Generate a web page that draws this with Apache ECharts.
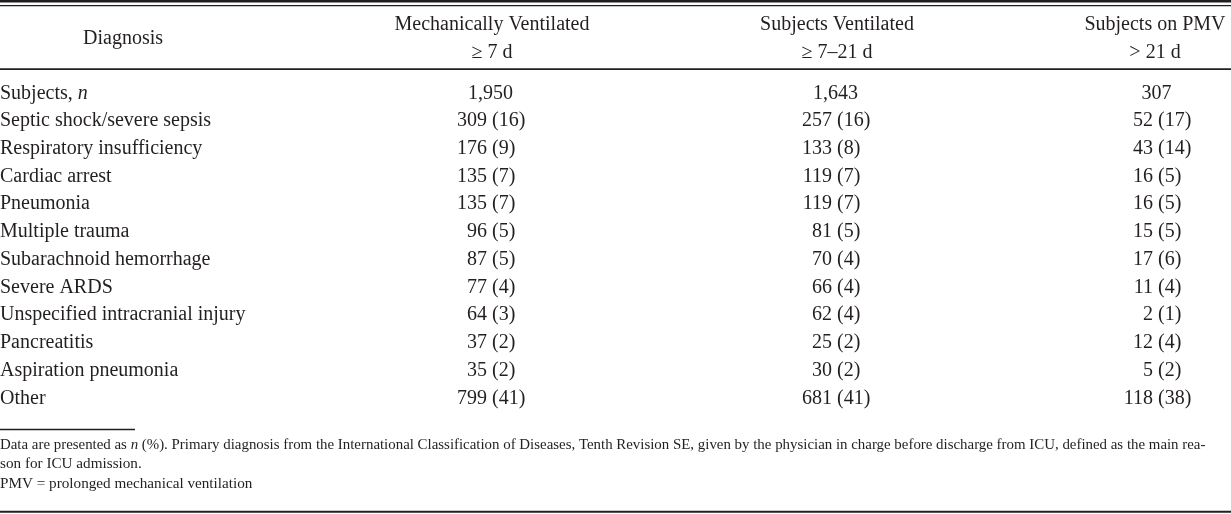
<!DOCTYPE html>
<html>
<head>
<meta charset="utf-8">
<script src="https://cdn.jsdelivr.net/npm/echarts/dist/echarts.min.js"></script>
<style>
html,body{margin:0;padding:0;background:#fff;}
#c{width:1231px;height:514px;}
</style>
</head>
<body>
<div id="c"></div>
<script>
// ---------------- DATA ----------------
const rowNames = [
  'Subjects, n',
  'Septic shock/severe sepsis',
  'Respiratory insufficiency',
  'Cardiac arrest',
  'Pneumonia',
  'Multiple trauma',
  'Subarachnoid hemorrhage',
  'Severe ARDS',
  'Unspecified intracranial injury',
  'Pancreatitis',
  'Aspiration pneumonia',
  'Other'
];
const mvCounts  = [1950, 309, 176, 135, 135, 96, 87, 77, 64, 37, 35, 799];
const mvPct     = [null, 16, 9, 7, 7, 5, 5, 4, 3, 2, 2, 41];
const svCounts  = [1643, 257, 133, 119, 119, 81, 70, 66, 62, 25, 30, 681];
const svPct     = [null, 16, 8, 7, 7, 5, 4, 4, 4, 2, 2, 41];
const pmvCounts = [307, 52, 43, 16, 16, 15, 17, 11, 2, 12, 5, 118];
const pmvPct    = [null, 17, 14, 5, 5, 5, 6, 4, 1, 4, 2, 38];
const headerDiagnosis = 'Diagnosis';
const columnHeaders = [
  ['Mechanically Ventilated', '\u2265 7 d'],
  ['Subjects Ventilated', '\u2265 7\u201321 d'],
  ['Subjects on PMV', '> 21 d']
];
const footnoteLines = [
  'Data are presented as {i|n} (%). Primary diagnosis from the International Classification of Diseases, Tenth Revision SE, given by the physician in charge before discharge from ICU, defined as the main rea-',
  'son for ICU admission.',
  'PMV = prolonged mechanical ventilation'
];

// ---------------- LAYOUT ----------------
const W = 1231, H = 514;
const FONT = '"Liberation Serif","Times New Roman",Times,serif';
const INK = '#231f20';
const FS = 20;                      // body font size
const FNS = [14.9, 15.2, 15.2];     // footnote font sizes per line
const colAnchor = [492, 837, 1158]; // x where "(" starts in each column
const colHeaderX = [492, 837, 1155];
const gridTop = 79.4, rowH = 27.73;

const fmt = n => n.toLocaleString('en-US');

const chart = echarts.init(document.getElementById('c'), null, {renderer: 'canvas'});
const baseLabel = {show: true, formatter: '{b}', color: INK, fontFamily: FONT, fontSize: FS, opacity: 1};
const baseSeries = {type: 'scatter', symbolSize: 0, silent: true, itemStyle: {opacity: 1},
                    emphasis: {disabled: true}};

function columnSeries(counts, pcts, ci) {
  const countData = counts.map((c, i) => {
    const item = {name: fmt(c), value: [colAnchor[ci], rowNames[i]]};
    if (pcts[i] == null) item.label = {position: 'inside', offset: [-1.5, 0]};
    return item;
  });
  const pctData = pcts.map((p, i) => p == null ? null :
    {name: '(' + p + ')', value: [colAnchor[ci], rowNames[i]]}).filter(Boolean);
  return [
    Object.assign({}, baseSeries, {data: countData,
      label: Object.assign({}, baseLabel, {position: 'left', distance: 5})}),
    Object.assign({}, baseSeries, {data: pctData,
      label: Object.assign({}, baseLabel, {position: 'right', distance: 0})})
  ];
}

const nameSeries = Object.assign({}, baseSeries, {
  data: rowNames.map(n => ({name: n, value: [0, n]})),
  label: Object.assign({}, baseLabel, {
    position: 'right', distance: 0,
    formatter: p => p.name === 'Subjects, n' ? 'Subjects, {i|n}' : p.name,
    rich: {i: {fontStyle: 'italic', fontFamily: FONT, fontSize: FS, color: INK}}
  })
});

const series = [nameSeries].concat(
  columnSeries(mvCounts, mvPct, 0),
  columnSeries(svCounts, svPct, 1),
  columnSeries(pmvCounts, pmvPct, 2)
);

const graphics = [];
function hRule(x, y, w, h) {
  graphics.push({type: 'rect', shape: {x: x, y: y, width: w, height: h}, style: {fill: INK}, silent: true});
}
hRule(0, 0, W, 2.5);
hRule(0, 5, W, 1.2);
hRule(0, 68.3, W, 1.8);
hRule(0, 428.8, 135, 1.4);
hRule(0, 510.8, W, 2);

function txt(text, x, y, align, size, rich) {
  graphics.push({type: 'text', x: x, y: y, silent: true,
    style: {text: text, fill: INK, fontFamily: FONT, fontSize: size,
            align: align, verticalAlign: 'middle', rich: rich || undefined}});
}
txt(headerDiagnosis, 123, 38.3, 'center', FS);
columnHeaders.forEach((h, i) => {
  txt(h[0], colHeaderX[i], 25, 'center', FS);
  txt(h[1], colHeaderX[i], 52.5, 'center', FS);
});
const footY = [445, 464.5, 484];
footnoteLines.forEach((l, i) => txt(l, 0, footY[i], 'left', FNS[i],
  {i: {fontStyle: 'italic', fontFamily: FONT, fontSize: FNS[i], fill: INK}}));

const option = {
  backgroundColor: '#fff',
  animation: false,
  grid: {left: 0, right: 0, top: gridTop, height: rowH * rowNames.length, containLabel: false},
  xAxis: {type: 'value', min: 0, max: W, show: false},
  yAxis: {type: 'category', data: rowNames, inverse: true, show: false},
  series: series,
  graphic: graphics
};
chart.setOption(option);
</script>
</body>
</html>
